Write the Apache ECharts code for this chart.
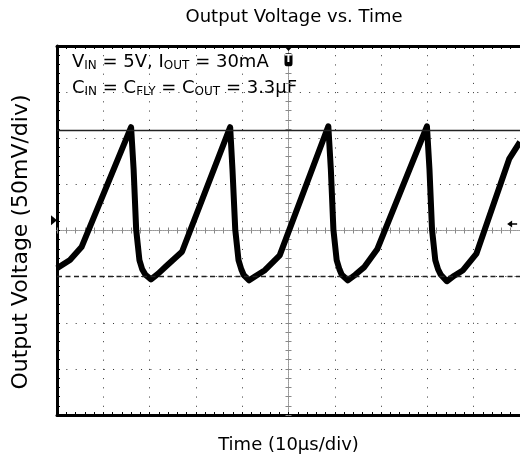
<!DOCTYPE html>
<html>
<head>
<meta charset="utf-8">
<script src="https://cdn.jsdelivr.net/npm/echarts@6/dist/echarts.min.js"></script>
<style>
  html, body { margin: 0; padding: 0; background: #fff; }
  #main { width: 520px; height: 460px; }
</style>
</head>
<body>
<div id="main"></div>
<script>
// scope trace, time relative to trigger (µs) and output ripple (mV)
const traceTime = [
  -50, -47.2, -44.7,
  -34.0, -33.45, -32.9, -32.2, -31.6, -30.9, -29.7, -28.2, -26.5, -23.0,
  -12.6, -12.1, -11.5, -10.8, -10.2, -9.7, -8.5, -7.0, -5.1, -1.9,
  8.6, 9.15, 9.7, 10.4, 11.0, 11.5, 12.8, 14.4, 16.3, 19.2,
  29.9, 30.45, 31.0, 31.7, 32.3, 32.9, 34.2, 35.8, 37.7, 40.6, 47.7, 50
];
const traceVolt = [
  -41, -32, -18,
  112, 66, 1, -32, -42, -48, -53, -47, -39, -23,
  112, 66, 1, -32, -42, -48, -54, -49, -43, -27,
  113, 66, 1, -32, -42, -48, -54, -48, -40, -20,
  113, 66, 1, -32, -42, -48, -55, -49, -43, -25, 78, 96
];
const timeRange = [-50, 50];   // 10 div x 10µs
const voltRange = [-200, 200]; // 8 div x 50mV
const timeStep = 10;
const voltStep = 50;
const cursorSolid = 109;
const cursorDashed = -50;

const FONT = 'DejaVu Sans';
const chartDom = document.getElementById('main');
const myChart = echarts.init(chartDom);
let option;

function frameAxis(range, step, extra) {
  return Object.assign({
    type: 'value',
    min: range[0],
    max: range[1],
    interval: step,
    axisLabel: { show: false },
    splitLine: { show: false },
    axisTick: { show: true, inside: true, length: 3, lineStyle: { color: '#000', width: 1 } },
    minorTick: { show: true, splitNumber: 5, length: 3, lineStyle: { color: '#000', width: 1 } },
    axisLine: { show: true, onZero: false, lineStyle: { color: '#000', width: 3 } }
  }, extra);
}

// the dotted cross through the centre of the screen
function centreAxis(range, step, position, inside) {
  return frameAxis(range, step, {
    position: position,
    axisTick: { show: true, inside: inside, length: 3, lineStyle: { color: '#888', width: 1 } },
    minorTick: { show: true, splitNumber: 5, length: 3, lineStyle: { color: '#888', width: 1 } },
    axisLine: { show: true, onZero: true, onZeroAxisIndex: 0, lineStyle: { color: '#999', width: 1, type: [1, 1] } }
  });
}

const trace = traceTime.map(function (t, i) { return [t, traceVolt[i]]; });

const rich = {
  a: { fontFamily: FONT, fontSize: 18, color: '#000', lineHeight: 22 },
  s: { fontFamily: FONT, fontSize: 12, color: '#000', lineHeight: 12, padding: [8, 0, 0, 0] }
};

option = {
  animation: false,
  backgroundColor: '#fff',
  title: {
    text: 'Output Voltage vs. Time',
    left: 294,
    top: 8,
    padding: 0,
    textAlign: 'center',
    textStyle: { fontFamily: FONT, fontSize: 18, fontWeight: 'normal', color: '#000' }
  },
  grid: { left: 57, right: -4, top: 46, bottom: 45 },
  xAxis: [
    frameAxis(timeRange, timeStep, {
      position: 'bottom',
      name: 'Time (10µs/div)',
      nameLocation: 'middle',
      nameGap: 21,
      nameTextStyle: { fontFamily: FONT, fontSize: 18, color: '#000' },
      splitLine: { show: true, lineStyle: { color: '#333', width: 1, type: [1, 8.225] } }
    }),
    frameAxis(timeRange, timeStep, { position: 'top' }),
    centreAxis(timeRange, timeStep, 'bottom', true),
    centreAxis(timeRange, timeStep, 'bottom', false)
  ],
  yAxis: [
    frameAxis(voltRange, voltStep, {
      position: 'left',
      name: 'Output Voltage (50mV/div)',
      nameLocation: 'middle',
      nameGap: 25,
      nameTextStyle: { fontFamily: FONT, fontSize: 22, color: '#000', padding: [0, 23, 0, 0] },
      splitLine: { show: true, lineStyle: { color: '#333', width: 1, type: [1, 8.34] } }
    }),
    centreAxis(voltRange, voltStep, 'left', true),
    centreAxis(voltRange, voltStep, 'left', false)
  ],
  graphic: [
    { type: 'text', left: 72, top: 52, style: { text: '{a|V}{s|IN}{a| = 5V, I}{s|OUT}{a| = 30mA}', rich: rich } },
    { type: 'text', left: 72, top: 78, style: { text: '{a|C}{s|IN}{a| = C}{s|FLY}{a| = C}{s|OUT}{a| = 3.3µF}', rich: rich } }
  ],
  series: [{
    type: 'line',
    xAxisIndex: 0,
    yAxisIndex: 0,
    data: trace,
    showSymbol: false,
    lineStyle: { color: '#000', width: 6, join: 'round' },
    markLine: {
      silent: true,
      symbol: ['none', 'none'],
      label: { show: false },
      data: [
        { yAxis: cursorSolid, lineStyle: { type: 'solid', color: '#222', width: 1.3 } },
        { yAxis: cursorDashed, lineStyle: { type: [5, 3.5], color: '#222', width: 1.3 } }
      ]
    },
    markPoint: {
      silent: true,
      label: { show: false },
      data: [
        { coord: [0, 200], symbol: 'triangle', symbolRotate: 180, symbolSize: [11, 6], symbolOffset: [0, 2], itemStyle: { color: '#000' } },
        {
          coord: [0, 185], symbol: 'roundRect', symbolSize: [8, 13], itemStyle: { color: '#000' },
          label: { show: true, position: 'inside', formatter: 'T', color: '#fff', fontSize: 10, fontWeight: 'bold', fontFamily: FONT }
        },
        { coord: [-50, 11], symbol: 'path://M0,0L10,5L0,10Z', symbolSize: [6, 10], symbolOffset: [-3, 0], itemStyle: { color: '#000' } },
        { coord: [48.3, 7], symbol: 'path://M0,5L7,0L7,4L14,4L14,6L7,6L7,10Z', symbolSize: [10, 7], itemStyle: { color: '#000' } }
      ]
    }
  }]
};

option && myChart.setOption(option);
</script>
</body>
</html>
